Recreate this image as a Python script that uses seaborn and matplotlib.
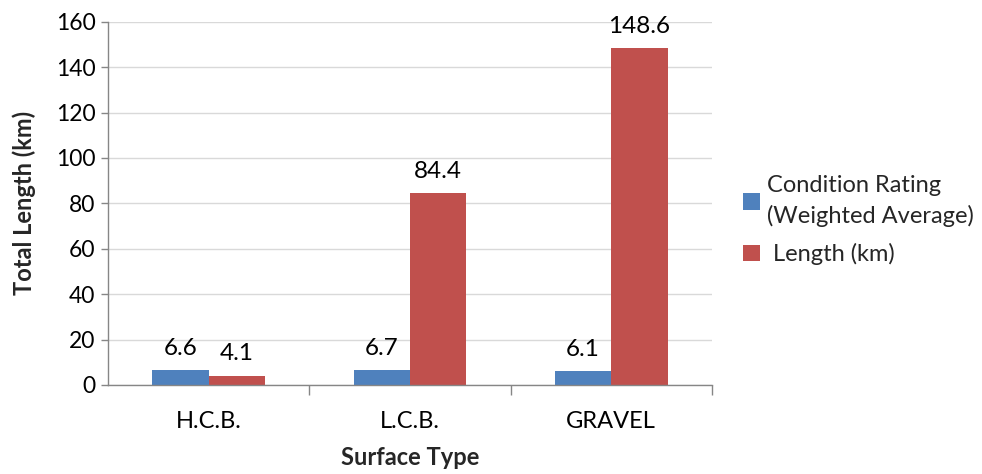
import matplotlib
matplotlib.use("Agg")
import matplotlib.pyplot as plt
import seaborn as sns
import pandas as pd
from matplotlib.ticker import FixedLocator
from matplotlib.patches import Patch

categories = ["H.C.B.", "L.C.B.", "GRAVEL"]
condition_rating = [6.6, 6.7, 6.1]
length_km = [4.1, 84.4, 148.6]
series_names = ["Condition Rating\n(Weighted Average)", "Length (km)"]
y_ticks = [0, 20, 40, 60, 80, 100, 120, 140, 160]

colors = ["#4F81BD", "#C0504D"]

df = pd.DataFrame({
    "Surface Type": categories * 2,
    "value": condition_rating + length_km,
    "series": [series_names[0]] * 3 + [series_names[1]] * 3,
})

sns.set_theme(style="white")
plt.rcParams["font.family"] = ["Lato", "DejaVu Sans"]

fig = plt.figure(figsize=(9.82, 4.74), dpi=100)
ax = fig.add_axes([0.110, 0.188, 0.615, 0.766])

sns.barplot(data=df, x="Surface Type", y="value", hue="series", order=categories,
            hue_order=series_names, palette=colors, width=0.56, saturation=1,
            ax=ax, legend=False, edgecolor="none")

ax.set_ylim(0, 160)
ax.set_xlim(-0.5, 2.5)
ax.set_yticks(y_ticks)
ax.yaxis.grid(True, color="#D9D9D9", linewidth=1)
ax.set_axisbelow(True)

for c in ax.containers:
    labels = [f"{v:.1f}" for v in c.datavalues]
    ax.bar_label(c, labels=labels, padding=8, fontsize=17.5, color="#000000")

for s in ["top", "right"]:
    ax.spines[s].set_visible(False)
for s in ["left", "bottom"]:
    ax.spines[s].set_color("#868686")
    ax.spines[s].set_linewidth(1.0)

ax.tick_params(axis="y", which="major", left=True, length=5, width=1.0, color="#868686",
               labelsize=16.5, labelcolor="#000000", pad=4)
ax.tick_params(axis="x", which="major", bottom=False, labelsize=17, labelcolor="#000000", pad=13)
ax.xaxis.set_minor_locator(FixedLocator([0.5, 1.5, 2.5]))
ax.tick_params(axis="x", which="minor", bottom=True, length=7, width=1.0, color="#868686")

ax.set_xlabel("Surface Type", fontsize=17, fontweight="bold", labelpad=10)
ax.set_ylabel("Total Length (km)", fontsize=17, fontweight="bold", labelpad=14)

handles = [Patch(facecolor=colors[0], edgecolor="none"), Patch(facecolor=colors[1], edgecolor="none")]
leg = fig.legend(handles, [series_names[0], " " + series_names[1]], loc="center left",
                 bbox_to_anchor=(0.735, 0.535), frameon=False, fontsize=17,
                 handlelength=0.7, handleheight=0.7, handletextpad=0.3, labelspacing=0.7)
for t in leg.get_texts():
    t.set_linespacing(1.45)

fig.savefig("out.png", dpi=100)
